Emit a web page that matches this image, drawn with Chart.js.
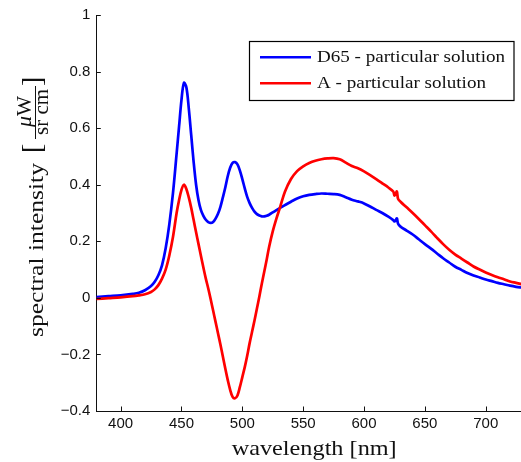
<!DOCTYPE html>
<html><head><meta charset="utf-8">
<script src="https://cdn.jsdelivr.net/npm/chart.js@4"></script>
<style>html,body{margin:0;padding:0;background:#fff}#wrap{width:521px;height:462px;position:relative}</style>
</head><body><div id="wrap"><canvas id="c"></canvas></div>
<script>
const wavelengths = [
 380,390,400,410,415,420,425,428,431,434,
 437,440,443,446,448,450,452,454,456,458,
 460,462,464,466,468,470,472,474,476,478,
 480,482,484,486,488,490,492,494,496,498,
 500,502,504,506,508,510,512,514,516,518,
 520,522,525,528,531,535,540,545,550,555,
 560,565,570,575,580,585,590,595,600,605,
 610,615,620,624,625,626,627,628,630,635,
 640,645,650,655,660,665,670,675,680,685,
 690,695,700,705,710,715,720,725,730];
const d65Values = [
 .003,.006,.009,.014,.018,.027,.042,.057,.08,.115,
 .175,.26,.37,.51,.605,.70,.76,.745,.67,.575,
 .48,.40,.345,.31,.29,.276,.268,.265,.268,.28,
 .297,.322,.355,.39,.43,.46,.477,.48,.472,.45,
 .42,.387,.357,.335,.318,.305,.296,.291,.288,.288,
 .29,.294,.302,.31,.318,.328,.34,.351,.359,.364,
 .367,.369,.368,.367,.364,.356,.347,.341,.334,.323,
 .311,.30,.287,.275,.27,.274,.281,.262,.252,.238,
 .224,.207,.19,.174,.157,.14,.125,.11,.099,.088,
 .079,.072,.065,.059,.053,.048,.043,.039,.036];
const aValues = [
 -.004,-.001,.002,.006,.009,.013,.021,.03,.045,.068,
 .10,.15,.215,.30,.345,.382,.40,.385,.355,.318,
 .275,.232,.19,.148,.107,.068,.033,-.005,-.045,-.085,
 -.125,-.165,-.207,-.25,-.29,-.325,-.35,-.355,-.345,-.315,
 -.28,-.245,-.205,-.16,-.12,-.08,-.038,.005,.05,.092,
 .135,.18,.235,.28,.32,.375,.42,.448,.465,.477,
 .485,.49,.493,.494,.49,.478,.466,.458,.447,.434,
 .42,.405,.39,.376,.362,.368,.376,.35,.34,.32,
 .30,.279,.257,.235,.212,.19,.17,.153,.139,.125,
 .111,.10,.09,.081,.073,.066,.058,.053,.048];
const seriesLabels = ['D65 - particular solution', 'A - particular solution'];
const seriesColors = ['#0000ff', '#ff0000'];
const xTicks = [400,450,500,550,600,650,700];
const xTickLabels = ['400','450','500','550','600','650','700'];
const yTicks = [-0.4,-0.2,0,0.2,0.4,0.6,0.8,1];
const yTickLabels = ['\u22120.4','\u22120.2','0','0.2','0.4','0.6','0.8','1'];
const xTitle = 'wavelength [nm]';
const yTitle = 'spectral intensity';
const yUnitNum = ['\u03bc', 'W'];
const yUnitDen = 'sr cm';

function fitText(ctx, text, x, y, w) {
  const m = ctx.measureText(text).width;
  ctx.save(); ctx.translate(x, y); ctx.scale(w / m, 1);
  ctx.fillText(text, 0, 0); ctx.restore();
}

const decor = {
  id: 'decor',
  afterDraw(chart) {
    const ctx = chart.ctx;
    const xs = chart.scales.x, ys = chart.scales.y;
    const L = chart.chartArea.left, B = chart.chartArea.bottom;
    ctx.save();
    ctx.strokeStyle = '#111'; ctx.lineWidth = 1;
    ctx.beginPath();
    xs.ticks.forEach(t => { const p = Math.round(xs.getPixelForValue(t.value)) + 0.5; ctx.moveTo(p, B); ctx.lineTo(p, B - 4.5); });
    ys.ticks.forEach(t => { const p = Math.round(ys.getPixelForValue(t.value)) + 0.5; ctx.moveTo(L, p); ctx.lineTo(L + 4.5, p); });
    ctx.stroke();
    // legend
    ctx.fillStyle = '#fff'; ctx.fillRect(249.5, 41.5, 264.5, 59);
    ctx.strokeStyle = '#000'; ctx.lineWidth = 1.2; ctx.strokeRect(249.5, 41.5, 264.5, 59);
    const rows = [57.3, 83.3], widths = [188, 169];
    ctx.font = '17px "Liberation Serif"'; ctx.textBaseline = 'alphabetic'; ctx.textAlign = 'left';
    chart.data.datasets.forEach((ds, i) => {
      ctx.strokeStyle = ds.borderColor; ctx.lineWidth = 2.6;
      ctx.beginPath(); ctx.moveTo(260, rows[i]); ctx.lineTo(311, rows[i]); ctx.stroke();
      ctx.fillStyle = '#111';
      fitText(ctx, ds.label, 317, rows[i] + 5, widths[i]);
    });
    // x title
    ctx.fillStyle = '#111';
    ctx.font = '21px "Liberation Serif"';
    fitText(ctx, xTitle, 231.7, 455, 165);
    // y title (rotated)
    ctx.save();
    ctx.rotate(-Math.PI / 2);
    fitText(ctx, yTitle, -337, 43, 174);
    ctx.font = '28px "Liberation Serif"';
    ctx.fillText('[', -153, 41);
    ctx.fillText(']', -86, 41);
    ctx.strokeStyle = '#111'; ctx.lineWidth = 1;
    ctx.beginPath(); ctx.moveTo(-139, 35.5); ctx.lineTo(-86, 35.5); ctx.stroke();
    ctx.font = 'italic 20px "Liberation Serif"';
    fitText(ctx, yUnitNum[0], -127, 31, 11);
    ctx.font = '20px "Liberation Serif"';
    fitText(ctx, yUnitNum[1], -116, 31, 20);
    fitText(ctx, yUnitDen, -112 - 23, 48, 46);
    ctx.restore();
    ctx.restore();
  }
};

const mk = arr => wavelengths.map((w, i) => ({ x: w, y: arr[i] }));

new Chart(document.getElementById('c'), {
  type: 'line',
  data: {
    datasets: [
      { label: seriesLabels[0], data: mk(d65Values), borderColor: seriesColors[0], borderWidth: 2.7, pointRadius: 0, fill: false, tension: 0.35, order: 1 },
      { label: seriesLabels[1], data: mk(aValues), borderColor: seriesColors[1], borderWidth: 2.7, pointRadius: 0, fill: false, tension: 0.35, order: 0 }
    ]
  },
  options: {
    responsive: true, maintainAspectRatio: false, animation: false,
    layout: { padding: { left: 0, right: 0, top: 12.7, bottom: 0 } },
    plugins: { legend: { display: false }, tooltip: { enabled: false } },
    scales: {
      x: {
        type: 'linear', min: 380, max: 729,
        afterBuildTicks: s => { s.ticks = xTicks.map(v => ({ value: v })); },
        afterFit: s => { s.height = 51; },
        grid: { display: false, drawTicks: false },
        border: { display: true, color: '#111', width: 1 },
        ticks: { padding: 4, color: '#111', font: { family: '"Liberation Sans"', size: 15 },
          callback: v => xTickLabels[xTicks.indexOf(v)] }
      },
      y: {
        type: 'linear', min: -0.4, max: 1,
        afterBuildTicks: s => { s.ticks = yTicks.map(v => ({ value: v })); },
        afterFit: s => { s.width = 96.3; },
        grid: { display: false, drawTicks: false },
        border: { display: true, color: '#111', width: 1 },
        ticks: { padding: 6, color: '#111', font: { family: '"Liberation Sans"', size: 15 },
          callback: v => yTickLabels[yTicks.findIndex(t => Math.abs(t - v) < 1e-9)] }
      }
    }
  },
  plugins: [decor]
});
</script></body></html>
